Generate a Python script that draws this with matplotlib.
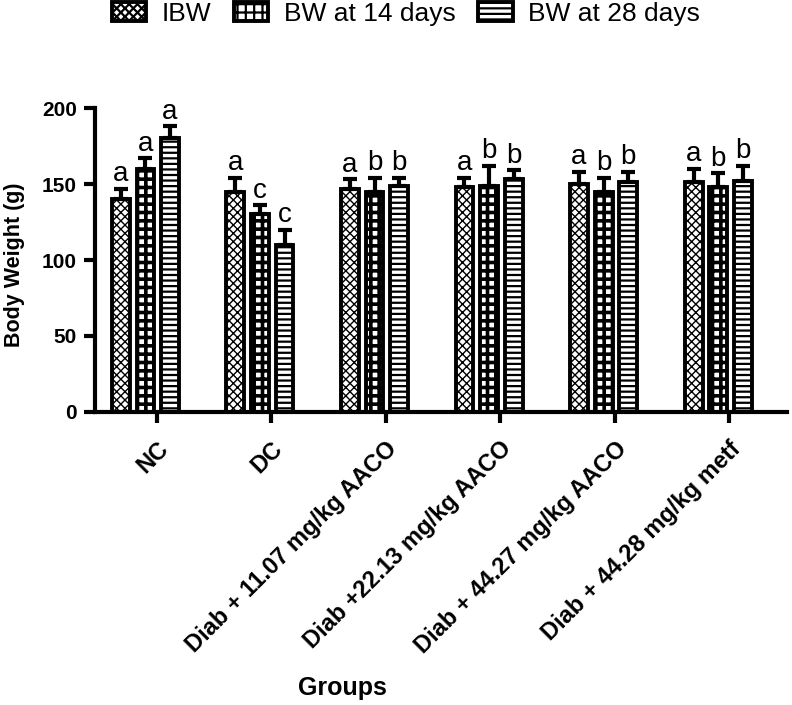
import matplotlib
matplotlib.use("Agg")
import matplotlib.pyplot as plt
import numpy as np

plt.rcParams['font.family'] = ['Liberation Sans', 'DejaVu Sans']
plt.rcParams['hatch.linewidth'] = 1.6

groups = ["NC", "DC", "Diab + 11.07 mg/kg AACO", "Diab +22.13 mg/kg AACO",
          "Diab + 44.27 mg/kg AACO", "Diab + 44.28 mg/kg metf"]
series_names = ["IBW", "BW at 14 days", "BW at 28 days"]
ibw = [140, 145, 147, 148, 150, 151]
bw14 = [160, 130, 145, 149, 145, 148]
bw28 = [180, 110, 149, 153, 151, 152]
ibw_err = [7, 9, 6, 6, 8, 9]
bw14_err = [7, 6, 9, 13, 9, 9]
bw28_err = [8, 10, 5, 6, 7, 10]
ibw_sig = ["a", "a", "a", "a", "a", "a"]
bw14_sig = ["a", "c", "b", "b", "b", "b"]
bw28_sig = ["a", "c", "b", "b", "b", "b"]
yticks = [0, 50, 100, 150, 200]

values = [ibw, bw14, bw28]
errs = [ibw_err, bw14_err, bw28_err]
sigs = [ibw_sig, bw14_sig, bw28_sig]
hatches = ['xxxx', '++', '---']
hatch_lws = [1.0, 2.6, 1.6]

fig = plt.figure(figsize=(7.92, 7.05), dpi=100)
ax = fig.add_axes([95/792, 1-412/705, (787-95)/792, (412-108)/705])

x = np.arange(len(groups))
pitch = 0.215
width = 0.155
handles = []
for k in range(3):
    pos = x + (k - 1) * pitch
    b = ax.bar(pos, values[k], width, color='white', edgecolor='black',
               linewidth=2.8, hatch=hatches[k], label=series_names[k], zorder=2)
    for r in b:
        if hasattr(r, 'set_hatch_linewidth'):
            r.set_hatch_linewidth(hatch_lws[k])
    handles.append(b)
    ax.errorbar(pos, values[k], yerr=[np.zeros(len(groups)), errs[k]], fmt='none',
                ecolor='black', elinewidth=3, capsize=5, capthick=3, zorder=3,
                clip_on=False)
    for p, v, e, s in zip(pos, values[k], errs[k], sigs[k]):
        ax.text(p, v + e + 1, s, ha='center', va='bottom', fontsize=20,
                clip_on=False)

ax.set_ylim(0, 200)
ax.set_xlim(-0.44, 5.6)
ax.set_yticks(yticks)
ax.set_yticklabels([str(t) for t in yticks], fontsize=15, fontweight='bold')
ax.set_xticks(x + 0.097)
ax.set_xticklabels(groups, rotation=45, ha='right', va='top', rotation_mode='anchor',
                   fontsize=17, fontweight='bold')
for sp in ['top', 'right']:
    ax.spines[sp].set_visible(False)
for sp in ['left', 'bottom']:
    ax.spines[sp].set_linewidth(3)
ax.tick_params(axis='both', width=3, length=8, direction='out')
ax.tick_params(axis='x', pad=10)
ax.tick_params(axis='y', pad=5)

fig.text(15/792, 1-265/705, "Body Weight (g)", rotation=90, ha='center', va='center',
         fontsize=15.5, fontweight='bold')
fig.text(342/792, 1-688/705, "Groups", ha='center', va='center',
         fontsize=18, fontweight='bold')

fig.legend(handles=handles, labels=series_names, loc='center',
           bbox_to_anchor=(406/792, 1-14/705), ncol=3, frameon=False,
           fontsize=19, handlelength=1.3, handleheight=0.75, columnspacing=0.85,
           handletextpad=0.6)

fig.savefig("out.png", dpi=100)
